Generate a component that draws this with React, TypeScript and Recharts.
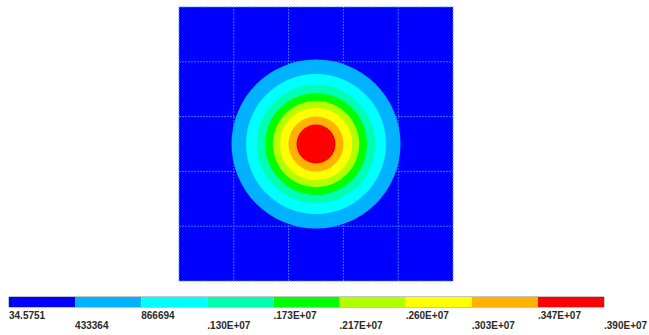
import React from "react";
import {
  ScatterChart,
  Scatter,
  XAxis,
  YAxis,
  ZAxis,
  Cell,
  ReferenceLine,
  ReferenceArea,
  CartesianGrid,
  BarChart,
  Bar,
} from "recharts";

// Contour levels (lower bound of each band) and their colours
const levelLabels = [
  "34.5751",
  "433364",
  "866694",
  ".130E+07",
  ".173E+07",
  ".217E+07",
  ".260E+07",
  ".303E+07",
  ".347E+07",
  ".390E+07",
];
const bandColors = [
  "#0000ff",
  "#00b2ff",
  "#00ffff",
  "#00ffb2",
  "#00ff00",
  "#b2ff00",
  "#ffff00",
  "#ffb200",
  "#ff0000",
];

// Outer radius of each band above the base level (grid units), from the 2nd band inward
const contourRadius = [1.542, 1.277, 1.08, 0.927, 0.79, 0.662, 0.502, 0.356];
const centerX = 2.5;
const centerY = 2.5;
const gridTicks = [0, 1, 2, 3, 4, 5];

// Plot geometry
const W = 649;
const PLOT_LEFT = 179;
const PLOT_TOP = 7;
const PLOT_SIZE = 274;
const MAIN_H = 290;
const PX_PER_UNIT = PLOT_SIZE / 5;
// z = r², symbol area = π·(r·px)²
const Z_MAX = 4;

const bandData = contourRadius.map((r, i) => ({
  x: centerX,
  y: centerY,
  z: r * r,
  color: bandColors[i + 1],
}));

const legendRow = [
  bandColors.reduce((acc: Record<string, number | string>, _c, i) => {
    acc["b" + i] = 1;
    return acc;
  }, { name: "scale" } as Record<string, number | string>),
];

const LegendTick = (props: any) => {
  const { x, y, payload, index } = props;
  const row = index % 2;
  return (
    <text
      x={x}
      y={y + (row === 0 ? 4 : 14)}
      textAnchor="start"
      fontFamily="'Liberation Sans', Arial, sans-serif"
      fontWeight="bold"
      fontSize={10}
      fill="#2a2a2a"
    >
      {levelLabels[payload.value]}
    </text>
  );
};

const gridLineProps = {
  stroke: "#3a8cff",
  strokeOpacity: 0.85,
  strokeDasharray: "2 1",
  strokeWidth: 1,
};

export default function App() {
  return (
    <div
      style={{
        position: "absolute",
        left: 0,
        top: 0,
        width: W,
        height: 335,
        background: "#fff",
        overflow: "hidden",
      }}
    >
      <div style={{ position: "absolute", left: 0, top: 0 }}>
        <ScatterChart
          width={W}
          height={MAIN_H}
          margin={{
            top: PLOT_TOP,
            left: PLOT_LEFT,
            right: W - PLOT_LEFT - PLOT_SIZE,
            bottom: MAIN_H - PLOT_TOP - PLOT_SIZE,
          }}
        >
          <CartesianGrid
            horizontal={false}
            vertical={false}
            fill={bandColors[0]}
            fillOpacity={1}
          />
          <XAxis type="number" dataKey="x" domain={[0, 5]} hide />
          <YAxis type="number" dataKey="y" domain={[0, 5]} hide />
          <ZAxis
            type="number"
            dataKey="z"
            domain={[0, Z_MAX]}
            range={[0, Z_MAX * Math.PI * PX_PER_UNIT * PX_PER_UNIT]}
          />
          <Scatter data={bandData} isAnimationActive={false} shape="circle">
            {bandData.map((d, i) => (
              <Cell key={i} fill={d.color} />
            ))}
          </Scatter>
          {gridTicks.map((t) => (
            <ReferenceLine key={"v" + t} x={t} {...gridLineProps} />
          ))}
          {gridTicks.map((t) => (
            <ReferenceLine key={"h" + t} y={t} {...gridLineProps} />
          ))}
        </ScatterChart>
      </div>
      <div style={{ position: "absolute", left: 0, top: 290 }}>
        <BarChart
          width={W}
          height={45}
          layout="vertical"
          data={legendRow}
          margin={{ top: 7, left: 9, right: W - 604, bottom: 0 }}
          barCategoryGap={0}
        >
          <XAxis
            type="number"
            domain={[0, 9]}
            ticks={[0, 1, 2, 3, 4, 5, 6, 7, 8, 9]}
            interval={0}
            axisLine={false}
            tickLine={false}
            height={28}
            tick={<LegendTick />}
          />
          <YAxis type="category" dataKey="name" hide />
          {bandColors.map((c, i) => (
            <Bar
              key={i}
              dataKey={"b" + i}
              stackId="scale"
              fill={c}
              isAnimationActive={false}
            />
          ))}
          <ReferenceArea
            x1={0}
            x2={9}
            fill="none"
            stroke="#8a8a8a"
            strokeWidth={1}
          />
        </BarChart>
      </div>
    </div>
  );
}
